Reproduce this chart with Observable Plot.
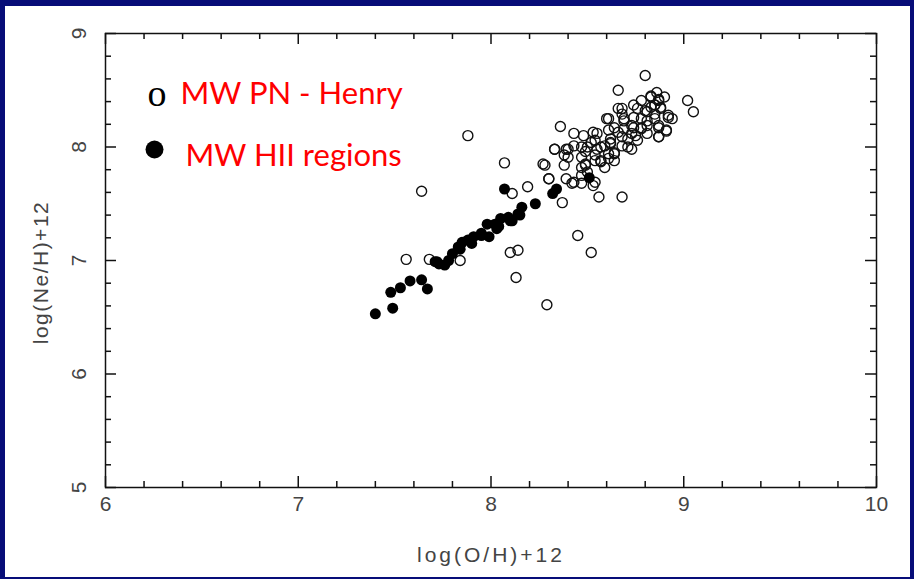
<!DOCTYPE html>
<html><head><meta charset="utf-8">
<script src="https://cdn.jsdelivr.net/npm/d3@7"></script>
<script src="https://cdn.jsdelivr.net/npm/@observablehq/plot@0.6"></script>
<style>
html,body{margin:0;padding:0;background:#070d78;}
#wrap{position:relative;width:914px;height:579px;background:#070d78;overflow:hidden;}
#chart{position:absolute;left:5px;top:6px;width:905px;height:571px;background:#fff;}
#chart svg{display:block;}
</style></head><body><div id="wrap"><div id="chart"></div></div>
<script>
// Planetary nebulae (open circles)
const pnOH = [8.80,8.66,9.02,9.05,8.83,8.87,8.85,7.88,8.36,8.43,8.48,8.53,8.60,8.66,8.74,8.92,8.91,8.87,8.33,8.39,8.47,8.07,8.27,8.38,8.47,8.30,8.19,8.11,8.37,8.42,8.47,8.53,8.56,8.68,7.64,8.45,8.52,8.10,8.14,8.13,8.29,7.56,7.68,7.84,
  8.54,8.57,8.62,8.68,8.73,8.78,8.81,8.85,8.88,8.64,8.69,8.74,8.80,8.61,8.54,8.49,8.57,8.64,8.71,8.76,8.68,8.61,8.55,8.50,8.47,8.78,8.83,8.87,8.81,8.74,8.64,8.59,8.90,8.86,8.94,8.49,8.40,
  8.52,8.55,8.59,8.62,8.66,8.69,8.73,8.78,8.81,8.85,8.83,8.87,8.88,8.61,8.57,8.54,8.64,8.68,8.71,8.75,8.78,8.81,8.85,8.49,8.47,8.50,8.40,8.38,8.43,8.33,8.28,8.30,8.39,8.43,8.54,8.92,8.87,8.87,8.91,8.76,8.69,8.61,8.68,8.62,8.73];
const pnNeH = [8.63,8.50,8.41,8.31,8.45,8.41,8.37,8.10,8.18,8.12,8.10,8.13,8.25,8.34,8.37,8.28,8.14,8.09,7.98,7.98,8.00,7.86,7.85,7.84,7.82,7.72,7.65,7.59,7.51,7.68,7.68,7.66,7.56,7.56,7.61,7.22,7.07,7.07,7.09,6.85,6.61,7.01,7.01,7.00,
  8.06,8.00,8.03,8.09,8.12,8.17,8.23,8.29,8.35,8.17,8.23,8.26,8.32,7.94,7.88,7.85,7.88,7.94,8.00,8.06,8.29,8.15,8.12,8.00,7.91,8.41,8.35,8.17,8.12,8.17,7.88,7.82,8.44,8.48,8.25,7.96,7.91,
  8.04,7.98,8.01,8.07,8.13,8.16,8.19,8.25,8.31,8.37,8.44,8.42,8.34,7.90,7.87,7.93,7.95,8.01,8.07,8.10,8.16,8.19,8.25,7.84,7.75,7.78,7.98,7.93,8.01,7.98,7.84,7.72,7.72,7.69,7.69,8.26,8.19,8.09,8.15,8.34,8.25,8.25,8.34,8.04,7.98];
// HII regions (filled circles)
const hiiOH = [7.40,7.49,7.48,7.53,7.58,7.64,7.67,7.71,7.73,7.76,7.80,7.83,7.85,7.88,7.91,7.95,7.98,7.99,8.02,8.05,8.09,8.11,8.14,8.16,8.07,8.23,8.32,8.34,8.51,7.72,7.78,7.84,7.90,7.95,8.03,8.10,8.15,8.04];
const hiiNeH = [6.53,6.58,6.72,6.76,6.82,6.83,6.75,6.99,6.97,6.96,7.06,7.12,7.16,7.18,7.21,7.24,7.32,7.21,7.32,7.37,7.38,7.35,7.41,7.47,7.63,7.50,7.59,7.63,7.73,6.99,7.00,7.10,7.15,7.22,7.28,7.35,7.40,7.30];

const xMajor = [6,7,8,9,10];
const yMajor = [5,6,7,8,9];
const xMinor = [6.2,6.4,6.6,6.8,7.2,7.4,7.6,7.8,8.2,8.4,8.6,8.8,9.2,9.4,9.6,9.8];
const yMinor = [5.2,5.4,5.6,5.8,6.2,6.4,6.6,6.8,7.2,7.4,7.6,7.8,8.2,8.4,8.6,8.8];
const legendLabels = ["MW PN - Henry", "MW HII regions"];

const pn = pnOH.map((x,i)=>({x, y: pnNeH[i]}));
const hii = hiiOH.map((x,i)=>({x, y: hiiNeH[i]}));

const W = 905, H = 571, mL = 100, mT = 27, mR = 34, mB = 90;
const iw = W - mL - mR, ih = H - mT - mB;
const maj = 11, mino = 6;
const fmt = d => String(d);

const chart = Plot.plot({
  width: W, height: H,
  marginLeft: mL, marginTop: mT, marginRight: mR, marginBottom: mB,
  style: {fontFamily: "'Liberation Sans', Arial, sans-serif", background: "#fff", color: "#444", fontSize: "21px"},
  x: {domain: [6,10]},
  y: {domain: [5,9]},
  marks: [
    Plot.frame({stroke: "#111", strokeWidth: 1.5}),
    Plot.tickX(xMajor, {x: d=>d, insetTop: ih - maj, stroke: "#111", strokeWidth: 1.5}),
    Plot.tickX(xMajor, {x: d=>d, insetBottom: ih - maj, stroke: "#111", strokeWidth: 1.5}),
    Plot.tickX(xMinor, {x: d=>d, insetTop: ih - mino, stroke: "#111", strokeWidth: 1.5}),
    Plot.tickX(xMinor, {x: d=>d, insetBottom: ih - mino, stroke: "#111", strokeWidth: 1.5}),
    Plot.tickY(yMajor, {y: d=>d, insetRight: iw - maj, stroke: "#111", strokeWidth: 1.5}),
    Plot.tickY(yMajor, {y: d=>d, insetLeft: iw - maj, stroke: "#111", strokeWidth: 1.5}),
    Plot.tickY(yMinor, {y: d=>d, insetRight: iw - mino, stroke: "#111", strokeWidth: 1.5}),
    Plot.tickY(yMinor, {y: d=>d, insetLeft: iw - mino, stroke: "#111", strokeWidth: 1.5}),
    Plot.axisX(xMajor, {anchor: "bottom", tickSize: 0, tickPadding: 9, fontSize: 21, fill: "#444", tickFormat: fmt,
      label: "log(O/H)+12", labelAnchor: "center", labelOffset: 74, labelArrow: "none"}),
    Plot.axisY(yMajor, {anchor: "left", tickSize: 0, tickPadding: 20, tickRotate: -90, fontSize: 21, fill: "#444", tickFormat: fmt,
      label: "log(Ne/H)+12", labelAnchor: "center", labelOffset: 72, labelArrow: "none"}),
    Plot.dot(pn, {x: "x", y: "y", r: 5, stroke: "#111", strokeWidth: 1.4, fill: "none"}),
    Plot.dot(hii, {x: "x", y: "y", r: 5.5, fill: "#000", stroke: "none"}),
    Plot.text(["o"], {frameAnchor: "top-left", dx: 42, dy: 46, fontSize: 38, fill: "#000",
      fontFamily: "'Liberation Serif', serif"}),
    Plot.dot([legendLabels[1]], {frameAnchor: "top-left", dx: 49, dy: 116, r: 9, fill: "#000"}),
    Plot.text([legendLabels[0]], {frameAnchor: "top-left", dx: 75, dy: 48, fontSize: 31, fill: "#ff0000",
      textAnchor: "start", fontFamily: "Lato, sans-serif"}),
    Plot.text([legendLabels[1]], {frameAnchor: "top-left", dx: 80, dy: 110, fontSize: 31, fill: "#ff0000",
      textAnchor: "start", fontFamily: "Lato, sans-serif"})
  ]
});
d3.select(chart).selectAll('g[aria-label="x-axis label"] text').attr("letter-spacing", "3px");
d3.select(chart).selectAll('g[aria-label="y-axis label"] text').attr("letter-spacing", "1.5px").attr("dx", -12);
document.getElementById("chart").appendChild(chart);
</script></body></html>
